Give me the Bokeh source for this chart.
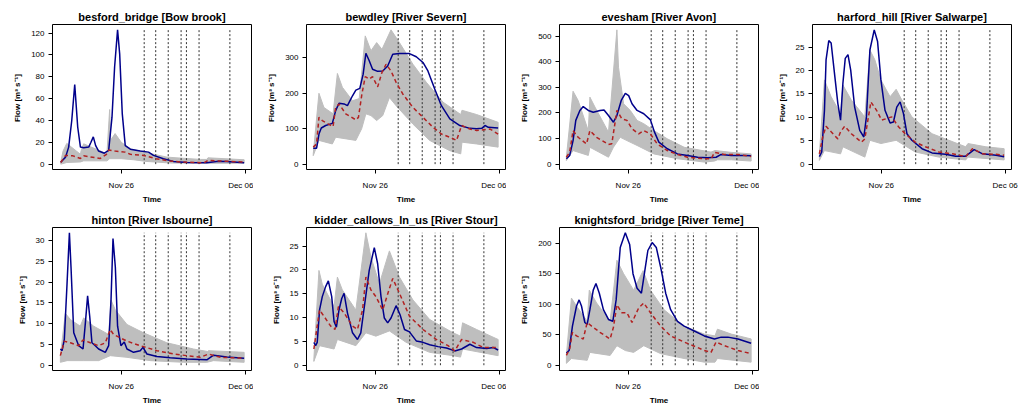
from bokeh.plotting import figure
from bokeh.layouts import gridplot
from bokeh.models import FixedTicker, Range1d
from bokeh.embed import file_html
from bokeh.resources import INLINE

# ---- shared time axis (days relative to Nov 26 00:00) ----
TIME_TICKS = [0, 10]
TIME_TICK_LABELS = ["Nov 26", "Dec 06"]
ISSUE_TIMES = [1.85, 2.78, 3.79, 4.83, 5.26, 6.28, 8.77]
DATA_START = -4.96
DATA_END = 9.92

# ---- besford_bridge ----
besford_title = "besford_bridge [Bow brook]"
besford_yticks = [0, 20, 40, 60, 80, 100, 120]
besford_obs_t = [-4.89, -4.5, -4.25, -4.0, -3.76, -3.52, -3.3, -3.04, -2.63, -2.45, -2.26, -2.07, -1.83, -1.37, -1.02, -0.75, -0.54, -0.3, -0.13, 0.08, 0.32, 0.73, 1.53, 2.2, 2.6, 3.4, 4.2, 5.3, 6.9, 7.85, 8.5, 9.92]
besford_obs_q = [1.8, 6.4, 15.6, 40, 73, 34, 15.6, 15, 15.6, 20, 25, 17, 12, 10, 12.5, 43, 89, 123, 101, 46, 17, 13.7, 12, 11, 8, 5, 2.5, 1.5, 1.2, 2.7, 2.4, 1.2]
besford_med_t = [-4.89, -4.5, -3.9, -3.3, -3.04, -1.7, -1.2, -1.0, -0.5, 0.3, 0.73, 1.8, 2.8, 3.8, 4.8, 6.0, 6.7, 7.0, 8.0, 9.92]
besford_med_q = [1.5, 8, 7.6, 5.2, 7.6, 5.2, 9, 13, 12, 11, 9, 8, 5, 3, 2, 1.5, 1.3, 3.5, 2.8, 2]
besford_hi_t = [-4.89, -4.7, -4.4, -3.3, -3.25, -3.04, -1.16, -0.94, -0.85, -0.5, 0.0, 0.73, 1.8, 3.7, 6.4, 6.9, 7.0, 9.92]
besford_hi_q = [2, 12, 19, 9, 12, 18.6, 9.5, 50, 22, 28, 20, 14, 11, 6.4, 4.3, 4.3, 5.8, 4]
besford_lo_t = [-4.89, -4.4, -3.3, -3.04, -1.16, -0.94, 0.0, 1.0, 2.0, 4.0, 6.96, 9.92]
besford_lo_q = [0, 1.5, 2, 3, 3, 5, 5, 4, 2.5, 1, 0.8, 0.8]

# ---- bewdley ----
bewdley_title = "bewdley [River Severn]"
bewdley_yticks = [0, 100, 200, 300]
bewdley_obs_t = [-5.01, -4.74, -4.55, -4.36, -4.01, -3.47, -3.2, -2.93, -2.52, -2.25, -1.84, -1.57, -1.25, -0.98, -0.76, -0.49, -0.22, 0.19, 0.6, 1.0, 1.41, 1.95, 2.76, 3.31, 3.85, 4.25, 4.8, 5.34, 6.02, 6.83, 7.64, 8.18, 8.6, 8.86, 9.13, 9.92]
bewdley_obs_q = [45, 45, 85, 102, 109, 115, 151, 172, 170, 165, 193, 209, 214, 254, 313, 292, 268, 262, 263, 277, 310, 312, 312, 303, 287, 263, 212, 165, 128, 109, 101, 100, 101, 109, 104, 102]
bewdley_med_t = [-5.01, -4.74, -4.55, -4.28, -3.74, -3.41, -3.2, -2.93, -2.39, -1.57, -1.36, -1.08, -0.81, -0.49, -0.22, 0.19, 0.54, 0.87, 1.27, 1.68, 2.22, 3.04, 3.85, 4.66, 5.34, 6.02, 6.56, 6.97, 7.64, 8.18, 9.27, 9.92]
bewdley_med_q = [48, 57, 132, 123, 112, 106, 160, 170, 142, 125, 132, 198, 247, 240, 247, 218, 259, 282, 263, 231, 198, 160, 132, 104, 85, 76, 67, 109, 99, 95, 99, 85]
bewdley_hi_t = [-5.01, -4.55, -4.15, -3.41, -3.06, -2.66, -1.84, -1.3, -0.81, -0.35, 0.11, 0.54, 1.27, 1.95, 3.04, 4.12, 5.47, 6.9, 7.0, 8.18, 9.92]
bewdley_hi_q = [29, 200, 160, 142, 256, 217, 179, 185, 362, 320, 343, 324, 379, 343, 282, 231, 175, 140, 152, 140, 118]
bewdley_lo_t = [-5.01, -4.55, -3.47, -3.2, -1.57, -1.1, -0.76, -0.35, 0.11, 0.6, 1.14, 1.68, 3.04, 4.39, 6.02, 6.9, 7.0, 8.18, 9.92]
bewdley_lo_q = [24, 67, 57, 76, 67, 100, 142, 137, 123, 137, 188, 165, 113, 67, 38, 29, 62, 57, 48]

# ---- evesham ----
evesham_title = "evesham [River Avon]"
evesham_yticks = [0, 100, 200, 300, 400, 500]
evesham_obs_t = [-5.0, -4.73, -4.46, -4.24, -3.91, -3.64, -3.23, -2.83, -2.28, -1.96, -1.6, -1.2, -0.92, -0.57, -0.24, 0.03, 0.3, 0.71, 1.25, 1.79, 2.12, 2.47, 3.15, 3.97, 4.78, 5.6, 6.41, 7.09, 7.5, 8.32, 9.4, 9.92]
evesham_obs_q = [21, 34, 92, 171, 210, 225, 210, 203, 210, 212, 190, 164, 190, 249, 277, 268, 236, 210, 197, 173, 125, 86, 60, 40, 34, 27, 25, 27, 38, 34, 34, 33]
evesham_med_t = [-5.0, -4.73, -4.46, -4.05, -3.37, -3.1, -2.56, -1.6, -1.33, -0.92, -0.52, -0.11, 0.3, 0.84, 1.25, 1.79, 2.34, 3.15, 3.97, 4.78, 6.14, 6.7, 6.96, 7.77, 8.86, 9.92]
evesham_med_q = [27, 47, 131, 105, 79, 131, 105, 77, 80, 210, 177, 171, 138, 118, 131, 118, 79, 53, 38, 27, 21, 21, 46, 38, 38, 30]
evesham_hi_t = [-5.0, -4.46, -4.05, -3.23, -3.1, -2.69, -1.6, -0.92, -0.79, -0.38, 0.16, 0.71, 1.25, 2.07, 3.15, 4.51, 6.68, 7.0, 8.32, 9.92]
evesham_hi_q = [27, 285, 249, 131, 262, 223, 125, 525, 379, 236, 210, 171, 158, 131, 99, 66, 47, 53, 46, 40]
evesham_lo_t = [-5.0, -4.46, -3.23, -3.1, -1.6, -1.2, -0.65, -0.11, 0.71, 2.07, 3.97, 6.14, 6.96, 7.2, 8.32, 9.92]
evesham_lo_q = [14, 53, 34, 66, 27, 66, 105, 92, 73, 40, 21, 8, 12, 17, 17, 12]

# ---- harford_hill ----
harford_title = "harford_hill [River Salwarpe]"
harford_yticks = [0, 5, 10, 15, 20, 25]
harford_obs_t = [-5.0, -4.81, -4.59, -4.46, -4.24, -4.05, -3.78, -3.51, -3.29, -3.1, -2.91, -2.69, -2.47, -2.15, -1.74, -1.41, -1.2, -0.92, -0.57, -0.3, -0.03, 0.3, 0.71, 0.98, 1.25, 1.52, 1.79, 2.07, 2.47, 3.29, 4.1, 5.19, 6.0, 6.82, 7.5, 8.18, 9.27, 9.92]
harford_obs_q = [1.6, 2.6, 11.5, 22.3, 26.4, 25.9, 19.4, 13, 9.4, 17.3, 22.6, 23.4, 20.1, 12.2, 7.2, 5.8, 10.1, 24.4, 28.7, 26.2, 18, 11.5, 8.8, 9, 12.2, 13.3, 10.8, 6.5, 5.1, 3.3, 2.4, 2.1, 1.7, 1.7, 3.1, 2.2, 1.9, 1.6]
harford_med_t = [-5.0, -4.73, -4.46, -4.05, -3.51, -3.29, -2.96, -2.42, -1.6, -1.33, -0.84, -0.38, 0.03, 0.84, 1.39, 1.93, 2.74, 3.56, 4.65, 5.74, 6.82, 7.36, 8.18, 9.27, 9.92]
harford_med_q = [2.2, 5.8, 8.1, 6.9, 5.4, 6.9, 8.1, 6.5, 4.7, 5.4, 13.3, 11.5, 9.4, 10.1, 8.0, 6.5, 4.7, 3.7, 2.6, 2.2, 1.6, 3.3, 2.2, 2.1, 1.9]
harford_hi_t = [-5.0, -4.59, -4.05, -3.29, -3.1, -2.42, -1.33, -0.92, -0.52, -0.03, 0.71, 1.2, 1.66, 2.47, 4.1, 6.82, 7.0, 8.45, 9.92]
harford_hi_q = [2.2, 18, 14.4, 10.8, 16.9, 13.7, 10.1, 24.4, 22.3, 18, 14.4, 16, 13.7, 10.1, 6.5, 3.7, 4.4, 3.7, 3.3]
harford_lo_t = [-5.0, -4.59, -3.29, -3.1, -1.33, -0.92, -0.03, 1.2, 2.74, 4.65, 6.82, 7.0, 9.92]
harford_lo_q = [0.8, 2.9, 2.2, 3.7, 1.5, 5.1, 4.4, 5.1, 2.6, 1.5, 0.9, 1.5, 0.9]

# ---- hinton ----
hinton_title = "hinton [River Isbourne]"
hinton_yticks = [0, 5, 10, 15, 20, 25, 30]
hinton_obs_t = [-4.92, -4.78, -4.6, -4.38, -4.19, -4.06, -3.84, -3.44, -3.09, -2.9, -2.72, -2.55, -2.37, -2.1, -1.83, -1.29, -1.02, -0.83, -0.67, -0.48, -0.3, -0.03, 0.24, 0.46, 0.99, 1.53, 1.75, 2.07, 2.88, 3.95, 5.3, 6.91, 7.45, 8.52, 9.92]
hinton_obs_q = [3.9, 3.5, 6.2, 19.7, 31.9, 23.6, 7.8, 4.7, 3.9, 10.2, 16.7, 11.8, 5.4, 4.7, 3.9, 3.1, 4.7, 15.7, 30.5, 23.6, 9.4, 4.7, 5.6, 3.9, 3.1, 3.5, 4.3, 2.7, 2.1, 1.8, 1.5, 1.3, 2.4, 2.0, 1.7]
hinton_med_t = [-4.92, -4.6, -4.11, -3.44, -3.09, -2.5, -1.83, -1.29, -0.89, -0.62, -0.08, 0.46, 1.53, 2.88, 4.22, 5.3, 6.37, 7.04, 8.0, 9.92]
hinton_med_q = [2.3, 5.8, 5.4, 4.7, 6.1, 5.4, 4.7, 5.4, 8.6, 7.4, 6.6, 5.8, 4.7, 3.5, 2.7, 2.3, 1.9, 2.7, 1.9, 1.7]
hinton_hi_t = [-4.92, -4.52, -4.11, -3.31, -3.04, -2.23, -1.02, -0.83, -0.48, 0.46, 1.8, 3.68, 5.83, 6.96, 7.04, 9.92]
hinton_hi_q = [2.3, 12.5, 11, 9.4, 11.4, 9.4, 7.4, 15.7, 13.3, 9.8, 7.8, 5.4, 3.9, 3.3, 3.5, 3.1]
hinton_lo_t = [-4.92, -4.38, -3.04, -1.83, -0.89, 0.46, 2.35, 5.03, 6.91, 7.45, 9.92]
hinton_lo_q = [0.7, 1.1, 1.1, 1.1, 2.3, 1.9, 1.1, 0.7, 0.7, 1.1, 0.7]

# ---- kidder_callows_ln_us ----
kidder_title = "kidder_callows_ln_us [River Stour]"
kidder_yticks = [0, 5, 10, 15, 20, 25]
kidder_obs_t = [-4.96, -4.82, -4.69, -4.5, -4.28, -4.01, -3.79, -3.52, -3.33, -3.14, -2.93, -2.71, -2.52, -2.25, -1.84, -1.44, -1.17, -0.81, -0.49, -0.08, 0.19, 0.46, 0.73, 1.0, 1.27, 1.68, 2.0, 2.36, 2.76, 3.31, 3.85, 4.39, 5.07, 5.75, 6.42, 6.97, 7.64, 8.18, 9.0, 9.54, 9.92]
kidder_obs_q = [4.8, 4.1, 4.8, 11.6, 14.4, 16.5, 17.7, 14.4, 9.2, 8.0, 11.6, 14.0, 15.1, 11.0, 6.8, 5.4, 6.8, 13.7, 19.9, 24.7, 21.3, 14.4, 9.9, 8.9, 9.9, 12.5, 10.6, 7.5, 7.0, 5.1, 4.8, 4.3, 3.9, 3.6, 3.0, 3.4, 4.4, 3.7, 3.5, 3.7, 3.2]
kidder_med_t = [-4.96, -4.5, -4.15, -3.6, -3.25, -2.98, -2.52, -1.84, -1.44, -1.03, -0.76, -0.35, 0.05, 0.6, 1.14, 1.41, 1.95, 2.76, 3.85, 4.93, 5.88, 6.42, 6.97, 7.91, 8.73, 9.92]
kidder_med_q = [3.4, 11.6, 10.3, 8.2, 7.5, 12.3, 11.0, 8.2, 7.5, 11.6, 18.5, 15.8, 14.4, 11.6, 16.1, 18.2, 15.1, 10.3, 7.5, 5.4, 4.1, 3.0, 5.4, 4.8, 3.7, 3.7]
kidder_hi_t = [-4.96, -4.55, -4.28, -3.33, -3.06, -2.66, -1.57, -0.76, -0.35, 0.33, 1.14, 1.95, 3.04, 4.39, 6.29, 6.88, 7.05, 8.18, 9.0, 9.92]
kidder_hi_q = [1.3, 19.9, 17, 12.3, 18.5, 15.8, 11.6, 27.8, 22.7, 17.1, 24, 18.5, 13.7, 9.6, 6.8, 6.1, 8.9, 7.5, 6.5, 5.4]
kidder_lo_t = [-4.96, -4.5, -3.33, -3.06, -1.57, -0.76, 0.05, 1.14, 2.49, 4.39, 6.29, 6.88, 7.05, 9.92]
kidder_lo_q = [0.8, 4.1, 3.4, 5.4, 4.1, 6.8, 6.1, 7.2, 4.8, 2.7, 2.0, 1.7, 3.4, 2.0]

# ---- knightsford_bridge ----
knights_title = "knightsford_bridge [River Teme]"
knights_yticks = [0, 50, 100, 150, 200]
knights_obs_t = [-5.0, -4.78, -4.51, -4.18, -3.97, -3.78, -3.51, -3.32, -3.1, -2.83, -2.61, -2.34, -2.01, -1.6, -1.25, -0.98, -0.65, -0.24, 0.11, 0.38, 0.71, 1.06, 1.3, 1.58, 1.93, 2.26, 2.61, 3.02, 3.42, 3.97, 4.51, 5.33, 6.14, 6.96, 7.5, 8.04, 8.86, 9.92]
knights_obs_q = [20, 24, 64, 97, 107, 97, 70, 67, 91, 123, 134, 118, 91, 75, 72, 107, 193, 217, 198, 150, 126, 118, 150, 188, 201, 193, 161, 118, 91, 72, 64, 56, 48, 43, 46, 46, 43, 36]
knights_med_t = [-5.0, -4.73, -4.51, -4.18, -3.64, -3.32, -2.96, -2.29, -1.47, -1.2, -0.92, -0.52, -0.11, 0.3, 0.84, 1.25, 1.79, 2.61, 3.42, 4.51, 5.6, 6.14, 6.68, 7.09, 7.77, 8.86, 9.92]
knights_med_q = [16, 27, 54, 48, 43, 70, 64, 54, 43, 62, 99, 86, 86, 70, 94, 102, 86, 64, 48, 38, 29, 24, 21, 38, 32, 24, 19]
knights_hi_t = [-5.0, -4.59, -4.18, -3.32, -3.15, -2.56, -1.47, -0.92, -0.38, 0.43, 1.2, 1.79, 2.88, 4.51, 6.14, 7.0, 7.2, 8.32, 9.92]
knights_hi_q = [16, 110, 97, 72, 123, 102, 72, 172, 150, 123, 155, 123, 91, 64, 51, 48, 59, 51, 43]
knights_lo_t = [-5.0, -4.59, -3.32, -3.1, -1.47, -0.92, -0.24, 0.43, 1.25, 2.61, 4.51, 6.14, 7.0, 7.2, 9.92]
knights_lo_q = [3, 11, 8, 21, 16, 32, 24, 21, 32, 19, 11, 5, 5, 11, 5]

PANELS = [
    (besford_title, besford_yticks, besford_obs_t, besford_obs_q, besford_med_t, besford_med_q, besford_hi_t, besford_hi_q, besford_lo_t, besford_lo_q),
    (bewdley_title, bewdley_yticks, bewdley_obs_t, bewdley_obs_q, bewdley_med_t, bewdley_med_q, bewdley_hi_t, bewdley_hi_q, bewdley_lo_t, bewdley_lo_q),
    (evesham_title, evesham_yticks, evesham_obs_t, evesham_obs_q, evesham_med_t, evesham_med_q, evesham_hi_t, evesham_hi_q, evesham_lo_t, evesham_lo_q),
    (harford_title, harford_yticks, harford_obs_t, harford_obs_q, harford_med_t, harford_med_q, harford_hi_t, harford_hi_q, harford_lo_t, harford_lo_q),
    (hinton_title, hinton_yticks, hinton_obs_t, hinton_obs_q, hinton_med_t, hinton_med_q, hinton_hi_t, hinton_hi_q, hinton_lo_t, hinton_lo_q),
    (kidder_title, kidder_yticks, kidder_obs_t, kidder_obs_q, kidder_med_t, kidder_med_q, kidder_hi_t, kidder_hi_q, kidder_lo_t, kidder_lo_q),
    (knights_title, knights_yticks, knights_obs_t, knights_obs_q, knights_med_t, knights_med_q, knights_hi_t, knights_hi_q, knights_lo_t, knights_lo_q),
]

FONT = "Liberation Sans"
GREY = "#BEBEBE"
OBS_COLOR = "#00008B"
MED_COLOR = "#B22222"

FRAME_W, FRAME_H = 199, 145
LEFT_BORDERS = [52, 53, 53, 53]
RIGHT_BORDERS = [2, 1, 1, 10]
ROW_TOP = [24, 21]
ROW_BOTTOM = [37, 35]


def make_panel(idx, spec):
    title, yticks, obs_t, obs_q, med_t, med_q, hi_t, hi_q, lo_t, lo_q = spec
    row, col = divmod(idx, 4)
    ymax = max(max(obs_q), max(med_q), max(hi_q))
    xpad = 0.04 * (DATA_END - DATA_START)
    left, right = LEFT_BORDERS[col], RIGHT_BORDERS[col]
    top, bottom = ROW_TOP[row], ROW_BOTTOM[row]
    p = figure(
        width=left + FRAME_W + right, height=top + FRAME_H + bottom,
        x_range=Range1d(DATA_START - xpad, DATA_END + xpad),
        y_range=Range1d(-0.04 * ymax, 1.04 * ymax),
        output_backend="svg", toolbar_location=None,
        min_border_left=left, min_border_right=right,
        min_border_top=top, min_border_bottom=bottom,
        background_fill_color="white", border_fill_color="white",
    )
    p.title.text = title
    p.title.align = "center"
    p.title.text_font = FONT
    p.title.text_font_style = "bold"
    p.title.text_font_size = "11px"
    p.title.text_color = "black"
    p.title.standoff = 3
    p.title.offset = 0

    p.outline_line_color = "black"
    p.outline_line_width = 1
    p.outline_line_alpha = 1
    p.xgrid.visible = False
    p.ygrid.visible = False

    # ensemble envelope
    p.patch(x=list(hi_t) + list(lo_t)[::-1], y=list(hi_q) + list(lo_q)[::-1],
            fill_color=GREY, line_color=GREY, line_width=1)
    # forecast issue times
    n = len(ISSUE_TIMES)
    p.segment(x0=ISSUE_TIMES, y0=[0] * n, x1=ISSUE_TIMES, y1=[ymax] * n,
              line_color="#333333", line_width=1, line_dash="2 2")
    # observed and ensemble median
    p.line(obs_t, obs_q, line_color=OBS_COLOR, line_width=1.5)
    p.line(med_t, med_q, line_color=MED_COLOR, line_width=1.5, line_dash="4 3")

    xa = p.xaxis[0]
    xa.ticker = FixedTicker(ticks=TIME_TICKS)
    xa.major_label_overrides = {t: lab for t, lab in zip(TIME_TICKS, TIME_TICK_LABELS)}
    xa.axis_label = "Time"
    xa.major_label_standoff = 7
    xa.axis_label_standoff = 2

    ya = p.yaxis[0]
    ya.ticker = FixedTicker(ticks=yticks)
    ya.axis_label = "Flow  [m\u00b3 s\u207b\u00b9]"
    ya.major_label_standoff = 4
    ya.axis_label_standoff = 6

    for ax in (xa, ya):
        ax.axis_line_color = None
        ax.major_tick_line_color = "black"
        ax.major_tick_out = 4
        ax.major_tick_in = 0
        ax.minor_tick_line_color = None
        ax.major_label_text_font = FONT
        ax.major_label_text_font_size = "8px"
        ax.major_label_text_color = "black"
        ax.axis_label_text_font = FONT
        ax.axis_label_text_font_size = "8px"
        ax.axis_label_text_font_style = "bold"
        ax.axis_label_text_color = "black"
    return p


figs = [make_panel(i, s) for i, s in enumerate(PANELS)]
grid = gridplot([figs[0:4], figs[4:7] + [None]], toolbar_location=None)

open("out.html", "w").write(file_html(grid, INLINE))
